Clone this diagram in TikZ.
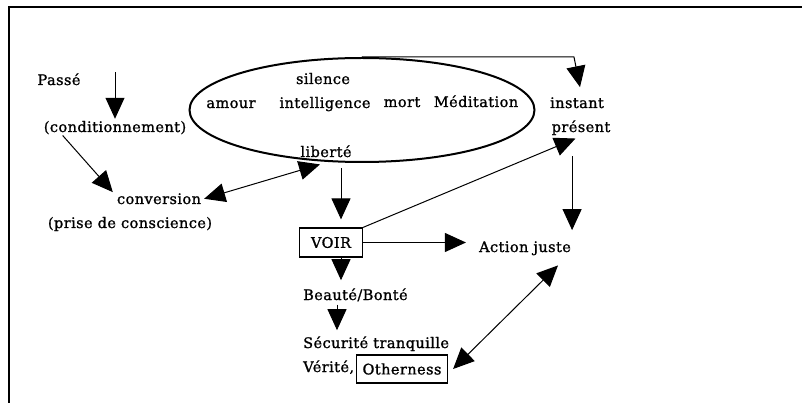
\documentclass[tikz,border=0pt]{standalone}
\usepackage{fontspec}
\setmainfont{DejaVu Serif}[LetterSpace=3, FakeBold=1.2]
\usepackage{tikz}
\usetikzlibrary{arrows.meta, calc, positioning, shapes.geometric}
\tikzset{%
  word/.style={%
    inner sep=1pt,%
    anchor=base,%
    font={\fontsize{14.5}{17}\selectfont},%
  },
  word_box/.style={%
    draw,%
    rectangle,%
    line width=1.2pt,%
    inner sep=0pt,%
    font={\fontsize{14.5}{17}\selectfont},%
  },
  mind_ellipse/.style={%
    ellipse,%
    draw,%
    line width=2pt,%
    minimum width=345pt,%
    minimum height=104pt,%
  },
  signal/.style={%
    line width=1pt,%
    line join=round%
  },
  frame_line/.style={%
    line width=2pt,%
  },
  arrow/.style={-{Triangle[length=21pt, width=19pt]}},
  both_arrow/.style={{Triangle[length=21pt, width=19pt]}-{Triangle[length=21pt, width=19pt]}},
}

\begin{document}
\begin{tikzpicture}[x=1pt, y=-1pt]
    \useasboundingbox (0,0) rectangle (802,403);
    \draw [frame_line] (9,403) -- (9,7) -- (802,7);

    \node [mind_ellipse] (Mind) at (362,110) {};
    \node [word] (Silence) at (323,84) {silence};
    \node [word] (Amour) at (231,108) {amour};
    \node [word] (Intel) at (325,108) {intelligence};
    \node [word] (Mort) at (402,107) {mort};
    \node [word] (Medit) at (476,107) {Méditation};
    \node [word] (Lib) at (326,157) {liberté};

    \node [word] (Passe) at (59,85) {Passé};
    \node [word] (Cond) at (115,132) {(conditionnement)};
    \node [word] (Conv) at (159,204) {conversion};
    \node [word] (Prise) at (130,228) {(prise de conscience)};

    \node [word] (Inst) at (577,108) {instant};
    \node [word] (Pres) at (581,132) {présent};

    \node [word_box, minimum width=63pt, minimum height=29pt] (Voir) at (331,242.5) {VOIR};
    \node [word] (Action) at (525,252) {Action juste};
    \node [word, anchor=base west] (Beaute) at (302,300) {Beauté/Bonté};
    \node [word, anchor=base west] (Secur) at (302,348) {Sécurité tranquille};
    \node [word, anchor=base west] (Verite) at (302,372) {Vérité,};
    \node [word_box, minimum width=91pt, minimum height=28pt] (Other) at (402,369) {Otherness};

    \draw [arrow, signal]
      (Cond.north |- Passe.north) -- ([yshift=1pt]Cond.north);
    \draw [arrow, signal]
      ([xshift=20pt]Cond.south west) -- ([xshift=-3pt]Conv.north west);
    \draw [both_arrow, signal]
      ([xshift=2pt]Conv.east) -- ([xshift=-6pt, yshift=-6pt]Lib.south);
    \draw [arrow, signal]
      (Mind.north)
      --
      ([xshift=-3pt]Mind.north -| Inst.north)
      --
      ([xshift=3pt, yshift=9pt]Inst.north);
    \draw [arrow, signal, shorten <=5pt, shorten >=8pt]
      ([xshift=10pt]Voir.north |- Mind.south) -- ([xshift=10pt]Voir.north);
    \draw [arrow, signal, shorten >=6pt]
      (Voir.north east) -- (Pres.south);
    \draw [arrow, signal, shorten <=20pt, shorten >=10pt]
      (Pres.south -| Action.north east) -- (Action.north east);
    \draw [arrow, signal, shorten >=12pt]
      (Voir.east) -- (Voir.east -| Action.west);
    \draw [arrow, signal, shorten >=7pt]
      ([xshift=10pt]Voir.south) -- ([xshift=10pt]Voir.south |- Beaute.north);
    \draw [arrow, signal, shorten <=2pt, shorten >=5pt]
      ([xshift=35pt]Beaute.south west) -- ([xshift=35pt]Secur.north west);
    \draw [both_arrow, signal]
      ([xshift=5pt]Other.east) -- ([xshift=33pt, yshift=-9pt]Action.south);
\end{tikzpicture}
\end{document}
